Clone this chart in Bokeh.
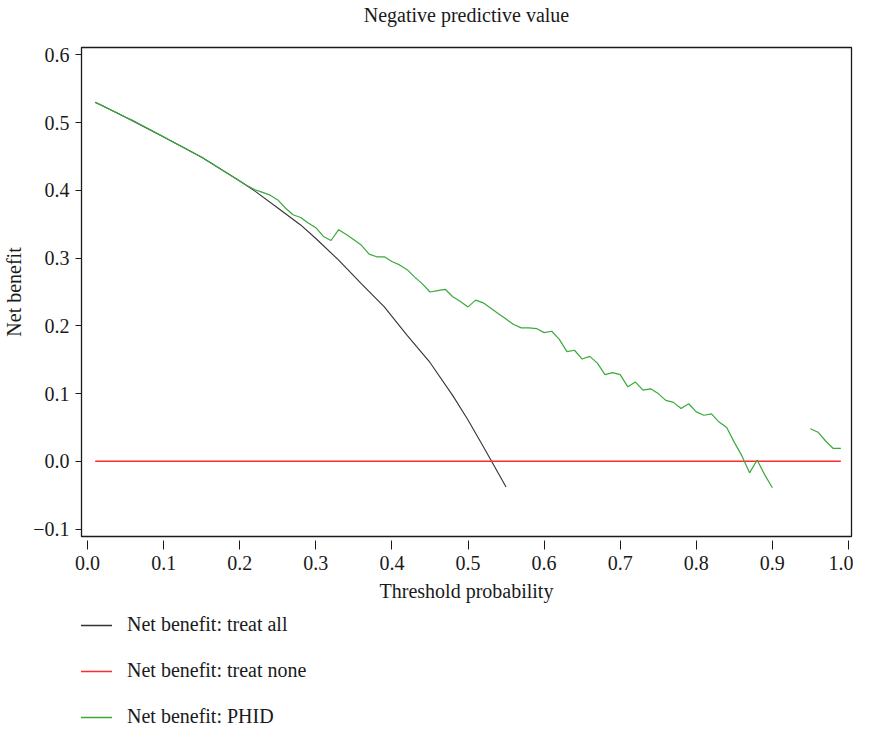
from bokeh.plotting import figure
from bokeh.layouts import column
from bokeh.models import Range1d, FixedTicker, Legend, LegendItem, Label
from bokeh.embed import file_html
from bokeh.resources import INLINE

# ---- data ----
threshold = [0.01, 0.02, 0.03, 0.04, 0.05, 0.06, 0.07, 0.08, 0.09, 0.10,
             0.11, 0.12, 0.13, 0.14, 0.15, 0.16, 0.17, 0.18, 0.19, 0.20,
             0.21, 0.22, 0.23, 0.24, 0.25, 0.26, 0.27, 0.28, 0.29, 0.30,
             0.31, 0.32, 0.33, 0.34, 0.35, 0.36, 0.37, 0.38, 0.39, 0.40,
             0.41, 0.42, 0.43, 0.44, 0.45, 0.46, 0.47, 0.48, 0.49, 0.50,
             0.51, 0.52, 0.53, 0.54, 0.55, 0.56, 0.57, 0.58, 0.59, 0.60,
             0.61, 0.62, 0.63, 0.64, 0.65, 0.66, 0.67, 0.68, 0.69, 0.70,
             0.71, 0.72, 0.73, 0.74, 0.75, 0.76, 0.77, 0.78, 0.79, 0.80,
             0.81, 0.82, 0.83, 0.84, 0.85, 0.86, 0.87, 0.88, 0.89, 0.90,
             0.91, 0.92, 0.93, 0.94, 0.95, 0.96, 0.97, 0.98, 0.99]
nan = float("nan")
phid = [0.530, 0.525, 0.519, 0.514, 0.508, 0.503, 0.497, 0.491, 0.485, 0.479,
        0.473, 0.467, 0.461, 0.455, 0.449, 0.442, 0.435, 0.428, 0.421, 0.414,
        0.407, 0.401, 0.397, 0.393, 0.386, 0.374, 0.364, 0.360, 0.352, 0.345,
        0.332, 0.326, 0.342, 0.335, 0.327, 0.319, 0.306, 0.302, 0.302, 0.295,
        0.290, 0.283, 0.272, 0.262, 0.250, 0.252, 0.254, 0.243, 0.236, 0.228,
        0.238, 0.234, 0.226, 0.218, 0.210, 0.202, 0.197, 0.197, 0.196, 0.190,
        0.192, 0.180, 0.162, 0.164, 0.151, 0.155, 0.145, 0.128, 0.131, 0.128,
        0.110, 0.117, 0.105, 0.107, 0.100, 0.090, 0.087, 0.078, 0.085, 0.073,
        0.068, 0.070, 0.058, 0.050, 0.028, 0.008, -0.017, 0.002, -0.020, -0.039,
        nan, nan, nan, nan, 0.048, 0.043, 0.030, 0.019, 0.019]

all_x = [0.01, 0.05, 0.10, 0.15, 0.20, 0.22, 0.25, 0.28, 0.30, 0.33, 0.36,
         0.39, 0.42, 0.45, 0.48, 0.50, 0.52, 0.54, 0.55]
all_y = [0.530, 0.508, 0.479, 0.449, 0.414, 0.399, 0.374, 0.349, 0.329, 0.297,
         0.262, 0.228, 0.186, 0.146, 0.097, 0.061, 0.022, -0.018, -0.038]

none_x = [0.01, 0.99]
none_y = [0.0, 0.0]

x_ticks = [0.0, 0.1, 0.2, 0.3, 0.4, 0.5, 0.6, 0.7, 0.8, 0.9, 1.0]
x_tick_labels = ["0.0", "0.1", "0.2", "0.3", "0.4", "0.5", "0.6", "0.7", "0.8", "0.9", "1.0"]
y_ticks = [-0.1, 0.0, 0.1, 0.2, 0.3, 0.4, 0.5, 0.6]
y_tick_labels = ["\u22120.1", "0.0", "0.1", "0.2", "0.3", "0.4", "0.5", "0.6"]

title_text = "Negative predictive value"
legend_labels = ["Net benefit: treat all", "Net benefit: treat none", "Net benefit: PHID"]
colors = ["#333333", "#ff2a2a", "#3aaa3a"]

FONT = "Liberation Serif"
FS = "20px"


def blank(height):
    f = figure(width=853, height=height, output_backend="svg", toolbar_location=None,
               x_axis_type=None, y_axis_type=None,
               min_border_left=0, min_border_right=0, min_border_top=0,
               min_border_bottom=0, outline_line_color=None,
               background_fill_color="white", border_fill_color="white")
    f.xgrid.visible = False
    f.ygrid.visible = False
    return f


# ---- title strip ----
tf = blank(28)
tf.add_layout(Label(x=385, y=14, x_units="screen", y_units="screen",
                    text=title_text, text_align="center", text_baseline="middle",
                    text_font=FONT, text_font_size=FS, text_color="#1a1a1a"))

# ---- main chart ----
p = figure(width=853, height=582, output_backend="svg", toolbar_location=None,
           x_range=Range1d(-0.008, 1.004), y_range=Range1d(-0.111, 0.611),
           min_border_left=66, min_border_right=2, min_border_top=19,
           min_border_bottom=74, background_fill_color="white",
           border_fill_color="white")

p.xgrid.visible = False
p.ygrid.visible = False
p.outline_line_color = "#1a1a1a"
p.outline_line_width = 1.3

p.line(all_x, all_y, line_color=colors[0], line_width=1.1)
p.line(none_x, none_y, line_color=colors[1], line_width=1.5)
p.line(threshold, phid, line_color=colors[2], line_width=1.2)

for ax in (p.xaxis[0], p.yaxis[0]):
    ax.axis_line_color = None
    ax.major_tick_line_color = "#1a1a1a"
    ax.minor_tick_line_color = None
    ax.major_label_text_font = FONT
    ax.major_label_text_font_size = FS
    ax.major_label_text_color = "#1a1a1a"
    ax.axis_label_text_font = FONT
    ax.axis_label_text_font_size = FS
    ax.axis_label_text_font_style = "normal"
    ax.axis_label_text_color = "#1a1a1a"

xa = p.xaxis[0]
xa.ticker = FixedTicker(ticks=x_ticks)
xa.major_label_overrides = dict(zip(x_ticks, x_tick_labels))
xa.major_tick_in = -4
xa.major_tick_out = 13
xa.major_label_standoff = 6
xa.axis_label = "Threshold probability"
xa.axis_label_standoff = 7

ya = p.yaxis[0]
ya.ticker = FixedTicker(ticks=y_ticks)
ya.major_label_overrides = dict(zip(y_ticks, y_tick_labels))
ya.major_tick_in = 0
ya.major_tick_out = 6
ya.major_label_standoff = 6
ya.axis_label = "Net benefit"
ya.axis_label_standoff = 5

# ---- legend strip below the chart (its lines lie outside its own view) ----
lg = blank(117)
lg.x_range = Range1d(0, 1)
lg.y_range = Range1d(5, 6)
series = [(all_x, all_y), (none_x, none_y), (threshold, phid)]
items = []
for lab, col, (sx, sy) in zip(legend_labels, colors, series):
    r = lg.line(sx, sy, line_color=col, line_width=1.3)
    items.append(LegendItem(label=lab, renderers=[r]))

legend = Legend(items=items, location=(-2, -1), orientation="vertical",
                glyph_width=33, glyph_height=20, label_height=20,
                label_standoff=15, spacing=23, padding=0, margin=0,
                border_line_color=None, background_fill_alpha=0,
                label_text_font=FONT, label_text_font_size=FS,
                label_text_color="#1a1a1a")
lg.add_layout(legend, "center")

layout = column(tf, p, lg, spacing=0)
open("out.html", "w").write(file_html(layout, INLINE))
